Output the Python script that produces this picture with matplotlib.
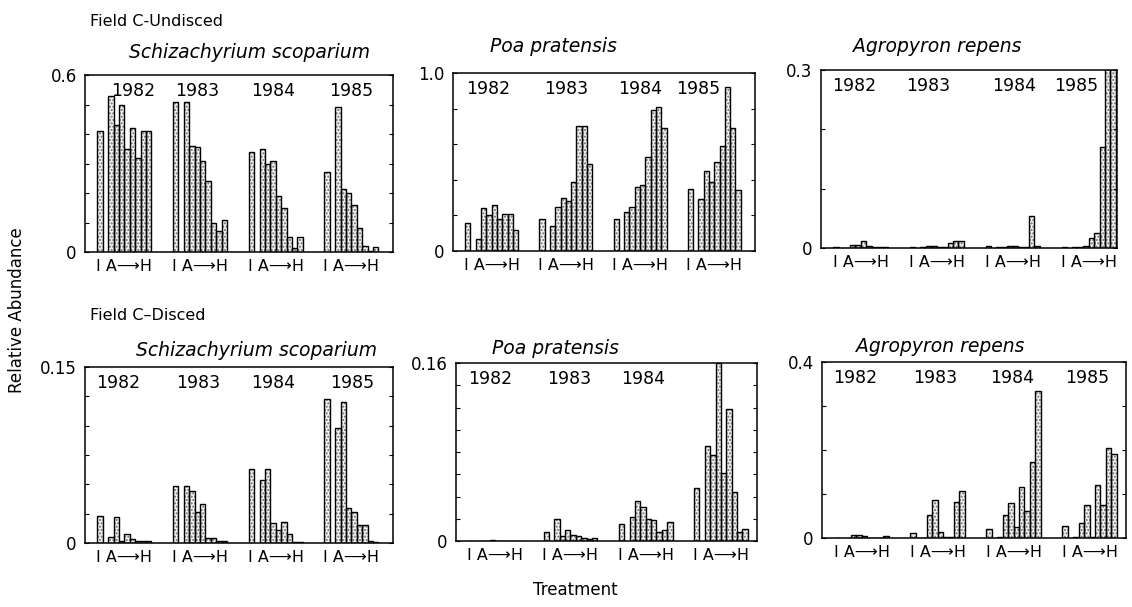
import numpy as np
import matplotlib.pyplot as plt

plt.rcParams['font.family'] = ['DejaVu Sans']

years = ['1982', '1983', '1984', '1985']
treatments = ['I', 'A', 'B', 'C', 'D', 'E', 'F', 'G', 'H']

# relative abundance, rows = years, cols = treatments I, A..H
schiz_undisced = [
    [0.41, 0.53, 0.43, 0.50, 0.35, 0.42, 0.32, 0.41, 0.41],
    [0.51, 0.51, 0.36, 0.355, 0.31, 0.24, 0.10, 0.07, 0.11],
    [0.34, 0.35, 0.30, 0.31, 0.19, 0.15, 0.05, 0.015, 0.05],
    [0.27, 0.49, 0.215, 0.20, 0.16, 0.08, 0.02, 0.005, 0.017],
]
poa_undisced = [
    [0.16, 0.07, 0.24, 0.20, 0.26, 0.18, 0.21, 0.21, 0.12],
    [0.18, 0.14, 0.25, 0.30, 0.28, 0.39, 0.70, 0.70, 0.49],
    [0.18, 0.22, 0.25, 0.36, 0.37, 0.53, 0.79, 0.81, 0.69],
    [0.35, 0.29, 0.45, 0.39, 0.50, 0.59, 0.92, 0.69, 0.34],
]
agro_undisced = [
    [0.001, 0.0, 0.005, 0.005, 0.012, 0.003, 0.002, 0.002, 0.001],
    [0.002, 0.001, 0.004, 0.003, 0.001, 0.001, 0.008, 0.012, 0.012],
    [0.004, 0.001, 0.002, 0.003, 0.003, 0.002, 0.001, 0.054, 0.004],
    [0.001, 0.001, 0.001, 0.003, 0.017, 0.025, 0.17, 0.31, 0.31],
]
schiz_disced = [
    [0.023, 0.005, 0.022, 0.002, 0.008, 0.003, 0.002, 0.002, 0.002],
    [0.049, 0.049, 0.044, 0.026, 0.033, 0.004, 0.004, 0.002, 0.002],
    [0.063, 0.054, 0.063, 0.017, 0.011, 0.018, 0.008, 0.001, 0.001],
    [0.123, 0.098, 0.120, 0.030, 0.026, 0.015, 0.015, 0.002, 0.001],
]
poa_disced = [
    [0.0, 0.0, 0.0, 0.0005, 0.0, 0.0, 0.0, 0.0, 0.0],
    [0.008, 0.020, 0.0045, 0.010, 0.0055, 0.0045, 0.0025, 0.0015, 0.0025],
    [0.015, 0.022, 0.036, 0.031, 0.020, 0.019, 0.008, 0.010, 0.017],
    [0.048, 0.085, 0.077, 0.16, 0.061, 0.119, 0.044, 0.008, 0.011],
]
agro_disced = [
    [0.0, 0.0, 0.006, 0.006, 0.005, 0.0, 0.0, 0.0, 0.004],
    [0.012, 0.001, 0.053, 0.086, 0.013, 0.002, 0.002, 0.081, 0.107],
    [0.0195, 0.002, 0.053, 0.079, 0.025, 0.117, 0.062, 0.173, 0.335],
    [0.028, 0.002, 0.035, 0.076, 0.003, 0.121, 0.076, 0.204, 0.191],
]

W, H = 1132, 607
fig = plt.figure(figsize=(W / 100, H / 100), dpi=100)

offsets = np.array([0, 2, 3, 4, 5, 6, 7, 8, 9])


def panel(rect, data, ymax, ystep, toplab, xmax, nudge, show_years=(1, 1, 1, 1)):
    l, t, r, b = rect
    ax = fig.add_axes([l / W, 1 - b / H, (r - l) / W, (b - t) / H])
    centers = []
    for g, vals in enumerate(data):
        start = 2.3 + 14 * g
        x = start + offsets
        ax.bar(x, vals, width=1, align='edge', color='#f2f2f2', edgecolor='#6e6e6e',
               hatch='.....', linewidth=0)
        ax.bar(x, vals, width=1, align='edge', fill=False, edgecolor='black',
               linewidth=1.0)
        centers.append(start + 5)
        if show_years[g]:
            ax.text(start + 5 + nudge[g], 0.91, years[g], transform=ax.get_xaxis_transform(),
                    ha='center', va='center', fontsize=12.5)
    ax.set_xlim(0, xmax)
    ax.set_ylim(0, ymax)
    ax.set_xticks(centers)
    ax.set_xticklabels(['I A\u27f6H'] * 4, fontsize=11.5)
    ax.tick_params(axis='x', length=0, pad=5)
    ticks = np.arange(0, ymax + ystep / 2, ystep)
    ax.set_yticks(ticks)
    ax.set_yticklabels(['0'] + [''] * (len(ticks) - 2) + [toplab], fontsize=12)
    ax.tick_params(axis='y', direction='in', length=3, width=0.8, right=True, pad=6)
    for s in ax.spines.values():
        s.set_linewidth(1.1)
    return ax


panel((85, 75, 393, 252), schiz_undisced, 0.6, 0.1, '0.6', 57, [1.7, -0.5, -0.4, 0])
panel((453, 73, 755, 251), poa_undisced, 1.0, 0.2, '1.0', 57, [-0.7, 0, 0, -3.1])
panel((821, 70, 1117, 248), agro_undisced, 0.3, 0.1, '0.3', 54.5, [-1.1, -1.5, 0.2, -2.4])
panel((85, 367, 393, 543), schiz_disced, 0.15, 0.025, '0.15', 57, [-1.1, -0.4, -0.4, 0.2])
panel((456, 363, 757, 541), poa_disced, 0.16, 0.02, '0.16', 56, [-0.9, -0.2, -0.4, 0],
      show_years=(1, 1, 1, 0))
panel((822, 362, 1126, 538), agro_disced, 0.4, 0.1, '0.4', 56, [-1.1, -0.5, -0.2, -0.5])


def ftext(x, y, s, **kw):
    fig.text(x / W, 1 - y / H, s, **kw)


ftext(90, 21, 'Field C-Undisced', fontsize=11.5, ha='left', va='center')
ftext(90, 316, 'Field C\u2013Disced', fontsize=11.5, ha='left', va='center')
ftext(250, 52, 'Schizachyrium scoparium', fontsize=13.5, style='italic', ha='center', va='center')
ftext(553, 47, 'Poa pratensis', fontsize=13.5, style='italic', ha='center', va='center')
ftext(937, 46, 'Agropyron repens', fontsize=13.5, style='italic', ha='center', va='center')
ftext(257, 350, 'Schizachyrium scoparium', fontsize=13.5, style='italic', ha='center', va='center')
ftext(555, 348, 'Poa pratensis', fontsize=13.5, style='italic', ha='center', va='center')
ftext(940, 346, 'Agropyron repens', fontsize=13.5, style='italic', ha='center', va='center')
ftext(17, 310, 'Relative Abundance', fontsize=12, rotation=90, ha='center', va='center')
ftext(575, 590, 'Treatment', fontsize=12, ha='center', va='center')

fig.savefig('out.png', dpi=100)
